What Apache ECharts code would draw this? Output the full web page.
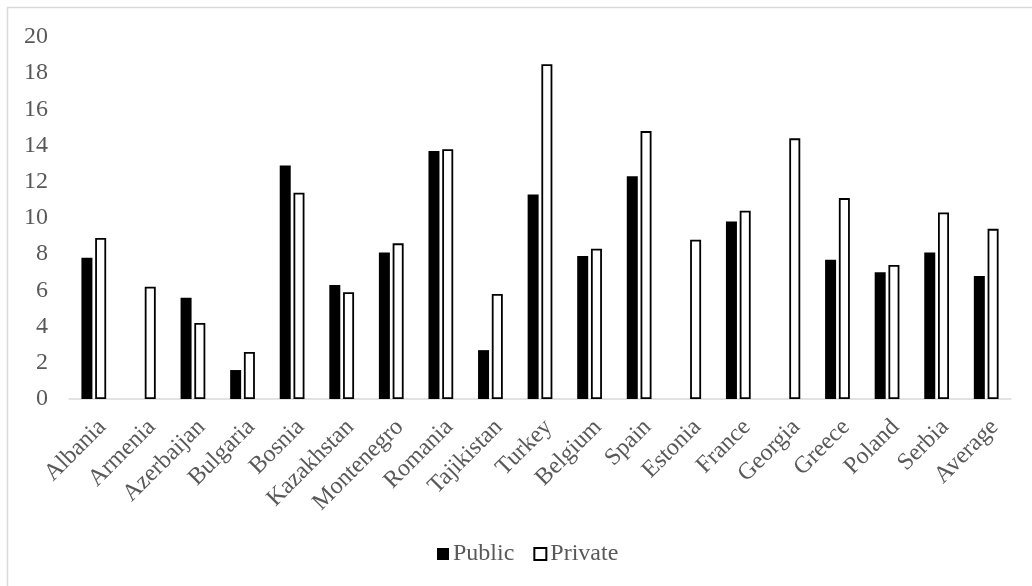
<!DOCTYPE html>
<html>
<head>
<meta charset="utf-8">
<script src="https://cdn.jsdelivr.net/npm/echarts@6/dist/echarts.min.js"></script>
<style>
html,body{margin:0;padding:0;background:#fff;}
#c{width:1032px;height:586px;}
</style>
</head>
<body>
<div id="c"></div>
<script>
const categories = ["Albania","Armenia","Azerbaijan","Bulgaria","Bosnia","Kazakhstan","Montenegro","Romania","Tajikistan","Turkey","Belgium","Spain","Estonia","France","Georgia","Greece","Poland","Serbia","Average"];
const publicValues = [7.8, null, 5.6, 1.6, 12.9, 6.3, 8.1, 13.7, 2.7, 11.3, 7.9, 12.3, null, 9.8, null, 7.7, 7.0, 8.1, 6.8];
const privateValues = [8.9, 6.2, 4.2, 2.6, 11.4, 5.9, 8.6, 13.8, 5.8, 18.5, 8.3, 14.8, 8.8, 10.4, 14.4, 11.1, 7.4, 10.3, 9.4];
const yTicks = {min: 0, max: 20, interval: 2};

const font = '"Liberation Serif", "Times New Roman", serif';
const chart = echarts.init(document.getElementById('c'), null, {renderer: 'canvas'});
chart.setOption({
  animation: false,
  backgroundColor: '#fff',
  graphic: [{
    type: 'rect', silent: true,
    shape: {x: 7.5, y: 7.5, width: 1040, height: 600},
    style: {fill: 'none', stroke: '#d9d9d9', lineWidth: 1.5}
  }],
  grid: {left: 69, right: 21, top: 37, bottom: 187, containLabel: false},
  legend: {
    top: 542, left: 437, padding: 0,
    itemWidth: 12, itemHeight: 12, itemGap: 19,
    textStyle: {fontFamily: font, fontSize: 24, color: '#595959', padding: [0, 0, 0, -1]},
    data: [
      {name: 'Public', icon: 'rect', itemStyle: {color: '#000', borderColor: '#000', borderWidth: 0}},
      {name: 'Private', icon: 'rect', itemStyle: {color: '#fff', borderColor: '#000', borderWidth: 2}}
    ]
  },
  xAxis: {
    type: 'category',
    data: categories,
    axisLine: {show: true, lineStyle: {color: '#d9d9d9', width: 1.5}},
    axisTick: {show: false},
    axisLabel: {
      interval: 0, rotate: 45, margin: 16, verticalAlign: 'top',
      fontFamily: font, fontSize: 24, color: '#595959'
    }
  },
  yAxis: {
    type: 'value',
    min: yTicks.min, max: yTicks.max, interval: yTicks.interval,
    splitLine: {show: false},
    axisLine: {show: false},
    axisTick: {show: false},
    axisLabel: {fontFamily: font, fontSize: 24, color: '#595959', margin: 21}
  },
  series: [
    {
      name: 'Public', type: 'bar', data: publicValues,
      barWidth: 11, barGap: '25%',
      itemStyle: {color: '#000'}
    },
    {
      name: 'Private', type: 'bar', data: privateValues,
      barWidth: 11, barGap: '25%',
      itemStyle: {color: '#fff', borderColor: '#000', borderWidth: 1.8}
    }
  ]
});
</script>
</body>
</html>
